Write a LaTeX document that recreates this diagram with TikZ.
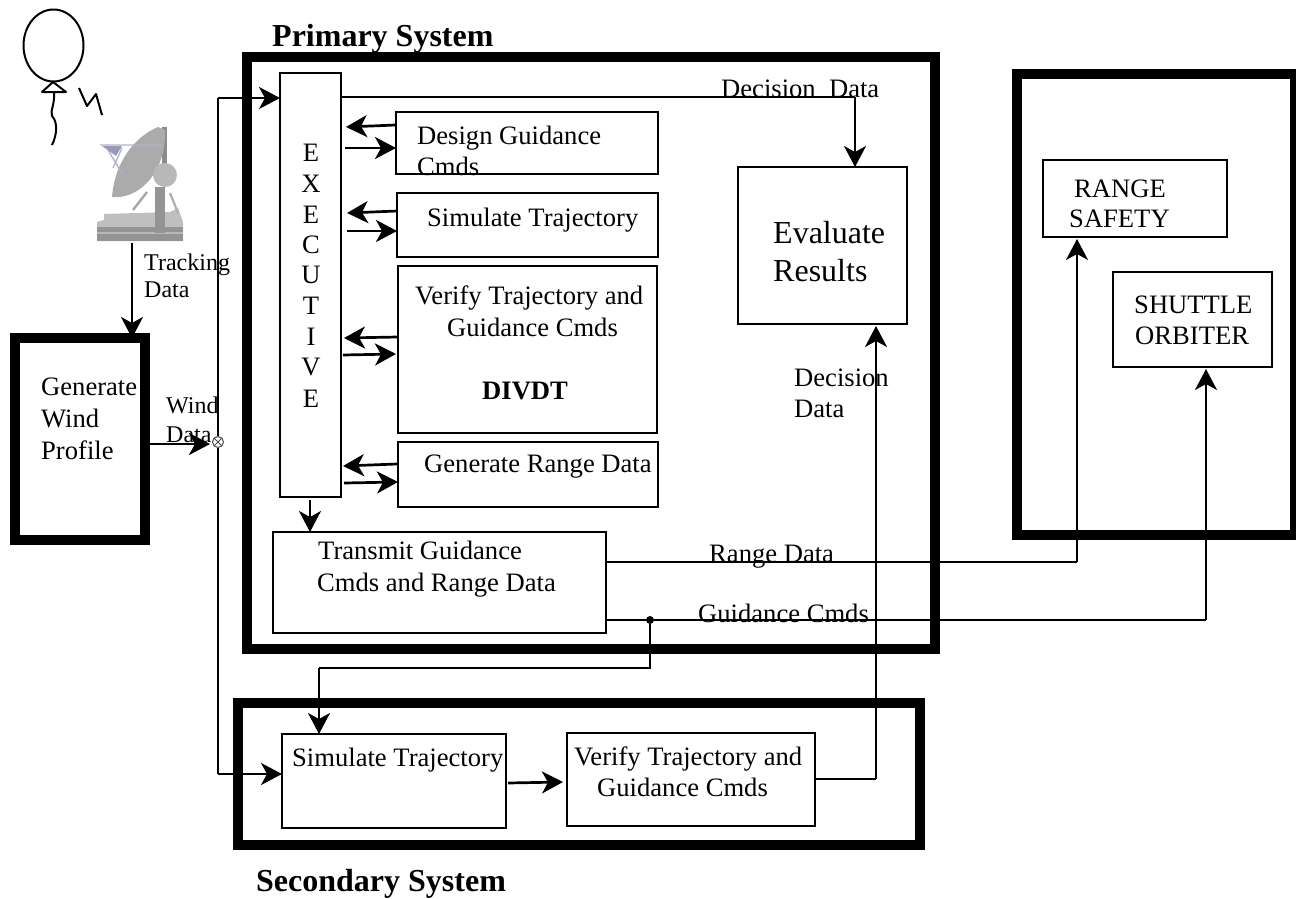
\documentclass[tikz,border=0pt]{standalone}
\usepackage{fontspec}
\setmainfont{Liberation Serif}
\usetikzlibrary{arrows.meta,shapes.geometric}
\tikzset{
  x=1pt,y=-1pt,
  thinbox/.style={draw=black,line width=2.4pt,anchor=north west,inner sep=0pt,outer sep=0pt},
  thickbox/.style={draw=black,line width=10.5pt,anchor=north west,inner sep=0pt,outer sep=0pt},
  wire/.style={draw=black,line width=2.2pt},
  arr/.style={wire,-{Stealth[length=21pt,width=22pt,inset=6pt]}},
  sarr/.style={arr,line width=2.7pt},
  pen/.style={draw=black,line width=2pt,line join=round},
  txt/.style={anchor=base west,inner sep=0pt,font=\fontsize{26.6}{26.6}\selectfont},
  small/.style={anchor=base west,inner sep=0pt,font=\fontsize{24}{24}\selectfont},
  big/.style={anchor=base west,inner sep=0pt,font=\fontsize{32}{32}\selectfont},
  hd/.style={anchor=base west,inner sep=0pt,font=\fontsize{32}{32}\selectfont\bfseries},
}
\begin{document}
\begin{tikzpicture}
\useasboundingbox (0,0) rectangle (1296,899);
% thick frames
\node[thickbox,minimum width=688pt,minimum height=592pt] (primary) at (247,57) {};
\node[thickbox,minimum width=278pt,minimum height=461pt] (outside) at (1017,74) {};
\node[thickbox,minimum width=130pt,minimum height=202pt] (wind) at (15,338) {};
\node[thickbox,minimum width=682pt,minimum height=142pt] (secondary) at (238,703) {};
% thin boxes
\node[thinbox,minimum width=61pt,minimum height=424pt] (exec) at (280,73) {};
\node[thinbox,minimum width=262pt,minimum height=62pt] (design) at (396,112) {};
\node[thinbox,minimum width=261pt,minimum height=64pt] (sim) at (397,193) {};
\node[thinbox,minimum width=259pt,minimum height=167pt] (verify) at (398,266) {};
\node[thinbox,minimum width=260pt,minimum height=65pt] (range) at (398,442) {};
\node[thinbox,minimum width=333pt,minimum height=101pt] (trans) at (273,532) {};
\node[thinbox,minimum width=169pt,minimum height=157pt] (eval) at (738,167) {};
\node[thinbox,minimum width=184pt,minimum height=77pt] (safety) at (1043,160) {};
\node[thinbox,minimum width=159pt,minimum height=95pt] (shuttle) at (1113,272) {};
\node[thinbox,minimum width=224pt,minimum height=94pt] (sim2) at (282,734) {};
\node[thinbox,minimum width=248pt,minimum height=93pt] (verify2) at (567,733) {};
% junctions
\node[circle,draw=black!70,line width=1pt,minimum size=11pt,inner sep=0pt,fill=white] (cross) at (218,442) {};
\draw[black!70,line width=.8pt] (cross.north west)--(cross.south east) (cross.north east)--(cross.south west);
\node[circle,fill=black,minimum size=8pt,inner sep=0pt] (dot) at (650,620) {};
\coordinate (antenna) at (132,243);
% balloon
\node[ellipse,pen,minimum width=60pt,minimum height=72pt,inner sep=0pt] (balloon) at (53.5,45.5) {};
\draw[pen] (42,92)--(66,92)--(53,82)--cycle;
\draw[pen] (54,92) .. controls (55,105) and (50,110) .. (52,116) .. controls (58,122) and (57,135) .. (52,145);
\draw[pen] (79,88)--(87,106)--(96,94)--(102,115);
% antenna
\fill[black!25] (97,241) -- (97,222) -- (104,220) -- (104,214) -- (170,212) -- (178,208) -- (183,222) -- (183,241) -- cycle;
\fill[black!42] (97,227) rectangle (183,241);
\fill[black!28] (97,232) rectangle (183,234);
\fill[black!42] (155,187) rectangle (165,233);
\fill[black!45] (162,127) rectangle (167,170);
\draw[black!30,line width=2.4pt] (170,193)--(178,213);
\fill[black!33] (158,127) .. controls (128,140) and (114,170) .. (112,197) .. controls (140,200) and (167,170) .. (165,130) -- cycle;
\fill[black!28] (165,175) circle (12pt);
\draw[blue!30!black!30,line width=1.3pt] (100,145)--(162,145) (108,150)--(123,175) (122,148)--(113,168);
\fill[blue!30!black!40] (102,146) -- (122,146)--(116,156)--cycle;
\draw[black!35,line width=2.4pt] (133,210)--(147,192);
% wires
\draw[arr] (antenna) -- (wind.north -| antenna);
\draw[sarr] (wind.east |- 0,444) -- ([xshift=-2pt]cross.west |- 0,444);
\draw[wire] (cross.north) -- (cross.north |- 0,98) coordinate (up);
\draw[arr] (up) -- (exec.west |- up);
\draw[wire] (cross.south) -- (cross.south |- 0,774) coordinate (low);
\draw[arr] (low) -- (sim2.west |- low);
\draw[wire] (exec.east |- 0,97) -- (855,97) coordinate (dd);
\draw[arr] (dd) -- (eval.north -| dd);
% exec <-> boxes
\draw[sarr] (design.west |- 0,125) -- (346,127);
\draw[sarr] (345,148) -- (design.west |- 0,148);
\draw[sarr] (sim.west |- 0,211) -- (347,213);
\draw[sarr] (347,231) -- (sim.west |- 0,231);
\draw[sarr] (verify.west |- 0,337) -- (344,338);
\draw[sarr] (343,355) -- (396,354);
\draw[sarr] (397,464) -- (343,466);
\draw[sarr] (344,483) -- (range.west |- 0,482);
\draw[arr] (310,500) -- (trans.north -| 310,0);
% output
\draw[wire] (trans.east |- 0,562) -- (1077,562) coordinate (rd);
\draw[arr] (rd) -- ([yshift=-2pt]safety.south -| rd);
\draw[wire] (trans.east |- dot) -- (dot.west);
\draw[wire] (dot.east) -- (1206,620) coordinate (gc);
\draw[arr] (gc) -- ([yshift=-2pt]shuttle.south -| gc);
\draw[wire] (dot.south) -- (650,668) -- (319,668) coordinate (gs);
\draw[arr] (gs) -- (sim2.north -| gs);
\draw[sarr] (508,783) -- (563,782);
\draw[wire] (verify2.east |- 0,779) -- (876,779) coordinate (vd);
\draw[arr] (vd) -- ([yshift=-2pt]eval.south -| vd);
% text
\node[hd] (t1) at (272,47) {Primary System};
\node[hd] (t2) at (256,891) {Secondary System};
\node[small] at (144,270) {Tracking};
\node[small] at (144,297) {Data};
\node[small] at (166,413) {Wind};
\node[small] at (166,442) {Data};
\node[txt] at (41,395) {Generate};
\node[txt] at (41,427) {Wind};
\node[txt] at (41,459) {Profile};
\foreach \l/\y in {E/161,X/192,E/223,C/253,U/283,T/314,I/345,V/375,E/407}{\node[anchor=base,inner sep=0pt,font=\fontsize{26.6}{26.6}\selectfont] at (311,\y) {\l};}
\node[txt] at (417,144) {Design Guidance};
\node[txt] at (417,175) {Cmds};
\node[txt] at (427,226) {Simulate Trajectory};
\node[txt] at (415,304) {Verify Trajectory and};
\node[txt] at (447,336) {Guidance Cmds};
\node[anchor=base west,inner sep=0pt,font=\fontsize{26.6}{26.6}\selectfont\bfseries] at (482,399) {DIVDT};
\node[txt] at (424,472) {Generate Range Data};
\node[txt] at (318,559) {Transmit Guidance};
\node[txt] at (317,591) {Cmds and Range Data};
\node[big] at (773,243) {Evaluate};
\node[big] at (773,281) {Results};
\node[txt] at (721,98) {Decision\ \ Data};
\node[txt] at (794,386) {Decision};
\node[txt] at (794,417) {Data};
\node[txt] at (709,562) {Range Data};
\node[txt] at (698,622) {Guidance Cmds};
\node[txt] at (1074,197) {RANGE};
\node[txt] at (1069,227) {SAFETY};
\node[txt] at (1134,313) {SHUTTLE};
\node[txt] at (1135,344) {ORBITER};
\node[txt] at (292,766) {Simulate Trajectory};
\node[txt] at (574,765) {Verify Trajectory and};
\node[txt] at (597,796) {Guidance Cmds};
\end{tikzpicture}
\end{document}
